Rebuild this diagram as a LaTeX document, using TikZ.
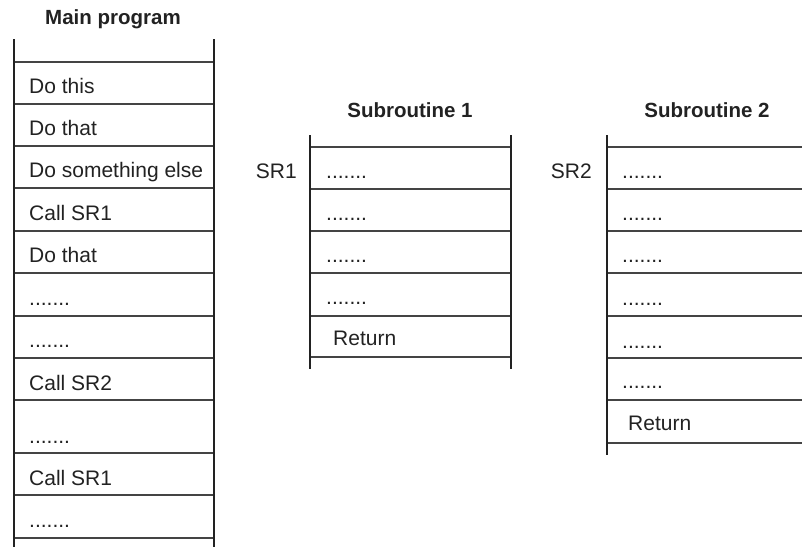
\documentclass[tikz,border=0pt]{standalone}
\usepackage{fontspec}
\setmainfont{Liberation Sans}
\definecolor{ink}{HTML}{222222}
\definecolor{rule}{HTML}{444444}
\begin{document}
\begin{tikzpicture}[x=1pt,y=-1pt,
  txt/.style={anchor=base west,inner sep=0pt,text=ink,font=\fontsize{21}{25}\selectfont},
  lbl/.style={anchor=base east,inner sep=0pt,text=ink,font=\fontsize{21}{25}\selectfont},
  ttl/.style={anchor=base,inner sep=0pt,text=ink,font=\fontsize{20.5}{25}\selectfont\bfseries},
  post/.style={draw=ink,line width=2.6pt},
  sep/.style={draw=rule,line width=1.8pt}]
\useasboundingbox (0,0) rectangle (802,547);
% ---- Main program ----
\node[ttl] (tmain) at (113,24) {Main program};
\foreach \y in {62,104,146,188,231,273,316,358,400,453,495,538}
  \draw[sep] (14,\y) -- (214,\y);
\draw[post] (14,39) -- (14,547);
\draw[post] (214,39) -- (214,547);
\node[txt] (m1) at (29,93) {Do this};
\node[txt] (m2) at (29,135) {Do that};
\node[txt] (m3) at (29,177) {Do something else};
\node[txt] (m4) at (29,220) {Call SR1};
\node[txt] (m5) at (29,262) {Do that};
\node[txt] (m6) at (29,305) {.......};
\node[txt] (m7) at (29,347) {.......};
\node[txt] (m8) at (29,390) {Call SR2};
\node[txt] (m9) at (29,443) {.......};
\node[txt] (m10) at (29,485) {Call SR1};
\node[txt] (m11) at (29,527) {.......};
% ---- Subroutine 1 ----
\node[ttl] (tsub1) at (410,117) {Subroutine 1};
\foreach \y in {147,189,231,273,316,357}
  \draw[sep] (310,\y) -- (511,\y);
\draw[post] (310,135) -- (310,369);
\draw[post] (511,135) -- (511,369);
\node[lbl] (sr1) at (297,178) {SR1};
\node[txt] (a1) at (326,178) {.......};
\node[txt] (a2) at (326,220) {.......};
\node[txt] (a3) at (326,262) {.......};
\node[txt] (a4) at (326,304) {.......};
\node[txt] (a5) at (333,345) {Return};
% ---- Subroutine 2 ----
\node[ttl] (tsub2) at (707,117) {Subroutine 2};
\foreach \y in {147,189,231,273,316,358,400,443}
  \draw[sep] (607,\y) -- (802,\y);
\draw[post] (607,135) -- (607,455);
\node[lbl] (sr2) at (592,178) {SR2};
\node[txt] (b1) at (622,178) {.......};
\node[txt] (b2) at (622,220) {.......};
\node[txt] (b3) at (622,262) {.......};
\node[txt] (b4) at (622,305) {.......};
\node[txt] (b5) at (622,348) {.......};
\node[txt] (b6) at (622,388) {.......};
\node[txt] (b7) at (628,430) {Return};
\end{tikzpicture}
\end{document}
